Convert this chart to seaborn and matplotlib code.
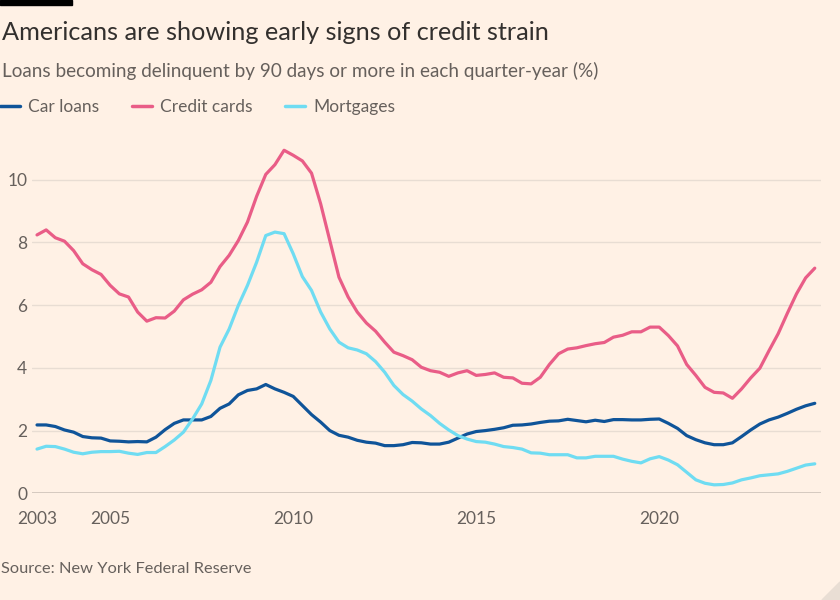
import numpy as np
import pandas as pd
import matplotlib
matplotlib.use("Agg")
import matplotlib.pyplot as plt
from matplotlib.lines import Line2D
from matplotlib.patches import Polygon, Rectangle
import seaborn as sns

# ---- data (quarterly, 2003 Q1 – 2024 Q2) ----
start_year = 2003
car_loans = [2.18, 2.18, 2.13, 2.02, 1.95, 1.81, 1.77, 1.76, 1.67, 1.66, 1.64, 1.65,
             1.64, 1.79, 2.03, 2.23, 2.34, 2.34, 2.34, 2.45, 2.71, 2.85, 3.14, 3.28,
             3.33, 3.47, 3.33, 3.22, 3.09, 2.80, 2.51, 2.27, 2.00, 1.85, 1.79, 1.69,
             1.63, 1.60, 1.52, 1.52, 1.55, 1.62, 1.61, 1.57, 1.57, 1.63, 1.76, 1.89,
             1.97, 2.00, 2.04, 2.09, 2.17, 2.18, 2.21, 2.26, 2.30, 2.31, 2.36, 2.32,
             2.28, 2.33, 2.29, 2.35, 2.35, 2.34, 2.34, 2.36, 2.37, 2.23, 2.07, 1.84,
             1.71, 1.61, 1.55, 1.55, 1.61, 1.81, 2.02, 2.21, 2.34, 2.43, 2.55, 2.68,
             2.79, 2.87]
credit_cards = [8.24, 8.40, 8.15, 8.04, 7.74, 7.32, 7.13, 6.98, 6.63, 6.36, 6.26, 5.78,
                5.49, 5.60, 5.59, 5.81, 6.17, 6.35, 6.49, 6.73, 7.23, 7.59, 8.06, 8.65,
                9.47, 10.17, 10.48, 10.94, 10.78, 10.60, 10.21, 9.23, 8.06, 6.89, 6.26, 5.78,
                5.43, 5.17, 4.82, 4.50, 4.39, 4.26, 4.02, 3.91, 3.86, 3.73, 3.84, 3.91,
                3.76, 3.79, 3.84, 3.70, 3.68, 3.51, 3.49, 3.70, 4.11, 4.45, 4.60, 4.64,
                4.71, 4.77, 4.81, 4.98, 5.04, 5.15, 5.15, 5.30, 5.30, 5.03, 4.70, 4.11,
                3.76, 3.38, 3.22, 3.20, 3.03, 3.33, 3.68, 3.99, 4.55, 5.09, 5.74, 6.36,
                6.87, 7.18]
mortgages = [1.41, 1.50, 1.49, 1.41, 1.31, 1.26, 1.31, 1.33, 1.33, 1.34, 1.28, 1.24,
             1.30, 1.30, 1.49, 1.70, 1.95, 2.37, 2.85, 3.60, 4.66, 5.24, 5.99, 6.63,
             7.37, 8.22, 8.33, 8.28, 7.64, 6.91, 6.47, 5.78, 5.24, 4.82, 4.64, 4.57,
             4.45, 4.20, 3.86, 3.44, 3.15, 2.94, 2.69, 2.48, 2.23, 2.02, 1.84, 1.73,
             1.65, 1.63, 1.57, 1.49, 1.46, 1.41, 1.29, 1.28, 1.23, 1.23, 1.23, 1.13,
             1.13, 1.18, 1.18, 1.18, 1.09, 1.02, 0.97, 1.10, 1.17, 1.06, 0.91, 0.67,
             0.43, 0.32, 0.27, 0.28, 0.33, 0.43, 0.49, 0.56, 0.59, 0.62, 0.70, 0.80,
             0.90, 0.94]
series_names = ["Car loans", "Credit cards", "Mortgages"]
series_colors = ["#0f5499", "#e95d87", "#6fdcf2"]
y_ticks = [0, 2, 4, 6, 8, 10]
x_major = [2003, 2005, 2010, 2015, 2020]
x_minor = [y for y in range(2004, 2025) if y not in x_major]

n = len(car_loans)
dates = [start_year + i / 4 for i in range(n)]
df = pd.DataFrame({
    "date": dates * 3,
    "value": car_loans + credit_cards + mortgages,
    "series": sum([[s] * n for s in series_names], []),
})

# ---- style ----
BG = "#fff1e5"
sns.set_theme(style="white")
plt.rcParams["font.family"] = ["Lato", "DejaVu Sans"]

fig = plt.figure(figsize=(8.4, 6.0), dpi=100, facecolor=BG)
ax = fig.add_axes([32 / 840, (600 - 493.3) / 600, (821 - 32) / 840, (493.3 - 132.7) / 600])
ax.set_facecolor(BG)

for y in y_ticks[1:]:
    ax.axhline(y, color="#e8ddd3", lw=1.0, zorder=1)
ax.axhline(0, color="#cec3b9", lw=1.2, zorder=1)

sns.lineplot(data=df, x="date", y="value", hue="series", hue_order=series_names,
             palette=series_colors, linewidth=2.3, ax=ax, legend=False, zorder=3)

ax.set_xlim(2002.863, 2024.42)
ax.set_ylim(0, 11.5)
for s in ax.spines.values():
    s.set_visible(False)
ax.set_xlabel("")
ax.set_ylabel("")

ax.set_yticks(y_ticks)
ax.set_yticklabels([str(v) for v in y_ticks])
ax.tick_params(axis="y", length=0, pad=3.5, labelsize=12.5, labelcolor="#66605c")

ax.set_xticks(x_major)
ax.set_xticklabels([str(v) for v in x_major])
ax.set_xticks(x_minor, minor=True)
ax.tick_params(axis="x", which="major", length=9.5, width=1.0, color="#d4c8bd",
               pad=3.5, labelsize=12.5, labelcolor="#66605c")
ax.tick_params(axis="x", which="minor", length=7.2, width=1.0, color="#d4c8bd")

# ---- text ----
fig.text(2 / 840, 1 - 32 / 600, "Americans are showing early signs of credit strain",
         fontsize=18.2, color="#33302e", va="center", ha="left")
fig.text(2 / 840, 1 - 71 / 600,
         "Loans becoming delinquent by 90 days or more in each quarter-year (%)",
         fontsize=13.6, color="#66605c", va="center", ha="left")
fig.text(1 / 840, 1 - 569 / 600, "Source: New York Federal Reserve",
         fontsize=11.8, color="#66605c", va="center", ha="left")

handles = [Line2D([0], [0], color=c, lw=2.5) for c in series_colors]
leg = fig.legend(handles, series_names, loc="center left",
                 bbox_to_anchor=(0, 1 - 107 / 600), ncol=3, frameon=False,
                 fontsize=12.5, handlelength=1.15, handletextpad=0.45,
                 columnspacing=1.9, borderpad=0, borderaxespad=0,
                 labelcolor="#66605c")

# top-left black bar and bottom-right corner mark
fig.patches.append(Rectangle((0, 1 - 5 / 600), 72 / 840, 5 / 600,
                             transform=fig.transFigure, color="#000000"))
fig.patches.append(Polygon([(1, 0), (1, 18 / 600), (1 - 18 / 840, 0)], closed=True,
                           transform=fig.transFigure, color="#e9ded4"))

fig.savefig("out.png", dpi=100, facecolor=BG)
